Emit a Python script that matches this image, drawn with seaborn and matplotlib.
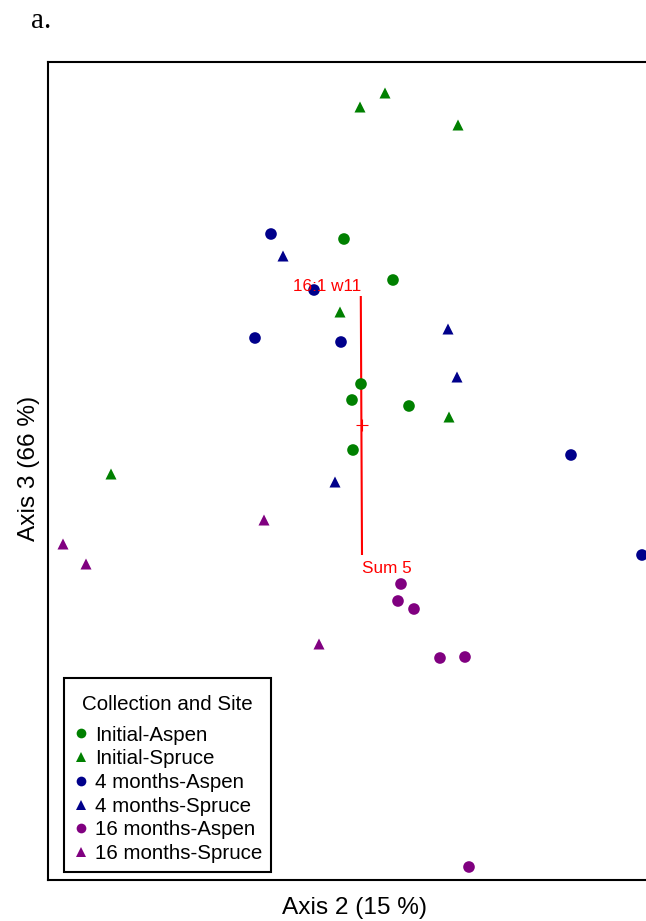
import numpy as np
import pandas as pd
import matplotlib
matplotlib.use("Agg")
import matplotlib.pyplot as plt
from matplotlib.lines import Line2D
from matplotlib.offsetbox import VPacker, DrawingArea
import seaborn as sns

# ---- data (ordination scores) ----
groups = ["Initial-Aspen", "Initial-Spruce", "4 months-Aspen",
          "4 months-Spruce", "16 months-Aspen", "16 months-Spruce"]

initial_aspen_x = [-0.09, 0.155, -0.005, -0.05, 0.235, -0.045]
initial_aspen_y = [0.93, 0.725, 0.205, 0.125, 0.095, -0.125]

initial_spruce_x = [0.115, -0.01, 0.48, -0.11, 0.435, -1.255]
initial_spruce_y = [1.66, 1.59, 1.50, 0.565, 0.04, -0.245]

m4_aspen_x = [-0.455, -0.24, -0.535, -0.105, 1.045, 1.40]
m4_aspen_y = [0.955, 0.675, 0.435, 0.415, -0.15, -0.65]

m4_spruce_x = [-0.395, 0.43, 0.475, -0.135]
m4_spruce_y = [0.845, 0.48, 0.24, -0.285]

m16_aspen_x = [0.195, 0.18, 0.26, 0.39, 0.515, 0.535]
m16_aspen_y = [-0.795, -0.88, -0.92, -1.165, -1.16, -2.21]

m16_spruce_x = [-1.495, -1.38, -0.49, -0.215]
m16_spruce_y = [-0.595, -0.695, -0.475, -1.095]

# joint-plot vector (from Sum 5 end to 16:1 w11 end)
vector_x = [0.0, -0.006]
vector_y = [-0.65, 0.645]
vector_labels = ["Sum 5", "16:1 w11"]

group_colors = ["#008000", "#008000", "#00008B", "#00008B", "#800080", "#800080"]
group_markers = ["o", "^", "o", "^", "o", "^"]

xs = [initial_aspen_x, initial_spruce_x, m4_aspen_x, m4_spruce_x, m16_aspen_x, m16_spruce_x]
ys = [initial_aspen_y, initial_spruce_y, m4_aspen_y, m4_spruce_y, m16_aspen_y, m16_spruce_y]

rows = []
for g, gx, gy in zip(groups, xs, ys):
    for a, b in zip(gx, gy):
        rows.append({"group": g, "axis2": a, "axis3": b,
                     "site": g.split("-")[1]})
df = pd.DataFrame(rows)

palette = dict(zip(groups, group_colors))
markers = dict(zip(groups, group_markers))

# ---- figure ----
sns.set_style("white")
plt.rcParams['font.family'] = ['Liberation Sans', 'DejaVu Sans']
plt.rcParams['text.color'] = 'black'
plt.rcParams['axes.labelcolor'] = 'black'

W, H = 646, 921
fig = plt.figure(figsize=(W / 100, H / 100), dpi=100)
ax_left, ax_right, ax_top, ax_bottom = 48, 670, 62, 880
ax = fig.add_axes([ax_left / W, 1 - ax_bottom / H,
                   (ax_right - ax_left) / W, (ax_bottom - ax_top) / H])

for site, s in [("Aspen", 70), ("Spruce", 63)]:
    sub = df[df["site"] == site]
    sns.scatterplot(data=sub, x="axis2", y="axis3", hue="group", style="group",
                    palette=palette, markers=markers, s=s, linewidth=0,
                    legend=False, ax=ax, zorder=3)

ax.plot(vector_x, vector_y, color="red", lw=1.5, zorder=2, solid_capstyle="butt")
ax.plot([0], [0], marker="+", ms=9, mew=0.8, color="red", ls="", zorder=2)

ax.annotate(vector_labels[1], xy=(vector_x[1], vector_y[1]), xytext=(0, 3.5),
            textcoords="offset points", ha="right", va="baseline",
            color="red", fontsize=12.3, zorder=4)
ax.annotate(vector_labels[0], xy=(vector_x[0], vector_y[0]), xytext=(0.3, -13),
            textcoords="offset points", ha="left", va="baseline",
            color="red", fontsize=12.3, zorder=4)

ax.set_xlim(-1.57, 1.54)
ax.set_ylim(-2.275, 1.815)
ax.set_xticks([])
ax.set_yticks([])
for sp in ax.spines.values():
    sp.set_visible(True)
    sp.set_color("black")
    sp.set_linewidth(1.5)

ax.set_xlabel("Axis 2 (15 %)", fontsize=17.6, color="black")
ax.set_ylabel("Axis 3 (66 %)", fontsize=17.6, color="black")
ax.xaxis.set_label_coords((355 - ax_left) / (ax_right - ax_left), -17 / (ax_bottom - ax_top))
ax.yaxis.set_label_coords(-8 / (ax_right - ax_left), (ax_bottom - 468) / (ax_bottom - ax_top))

fig.text(31 / W, 1 - 28 / H, "a.", family=["Liberation Serif", "DejaVu Serif"],
         fontsize=21, ha="left", va="baseline", color="black")

handles = [Line2D([], [], ls="", marker=m, color=c, markersize=7, markeredgewidth=0)
           for c, m in zip(group_colors, group_markers)]
leg = ax.legend(handles, groups, title="Collection and Site", loc="lower left",
                bbox_to_anchor=(64 / W, 1 - 872 / H), bbox_transform=fig.transFigure,
                frameon=True, fancybox=False, edgecolor="black", framealpha=1,
                fontsize=14.8, title_fontsize=14.8, borderpad=0.43,
                handlelength=0.8, handletextpad=0.28, labelspacing=0.23,
                borderaxespad=0, labelcolor="black")
leg.get_title().set_color("black")
leg.get_frame().set_linewidth(1.5)
leg._legend_box.sep = 8
# extra space above the title
title_box = leg._legend_box._children[0]
leg._legend_box._children[0] = VPacker(children=[DrawingArea(1, 6), title_box],
                                       pad=0, sep=0, align="center")

fig.savefig("out.png", dpi=100)
